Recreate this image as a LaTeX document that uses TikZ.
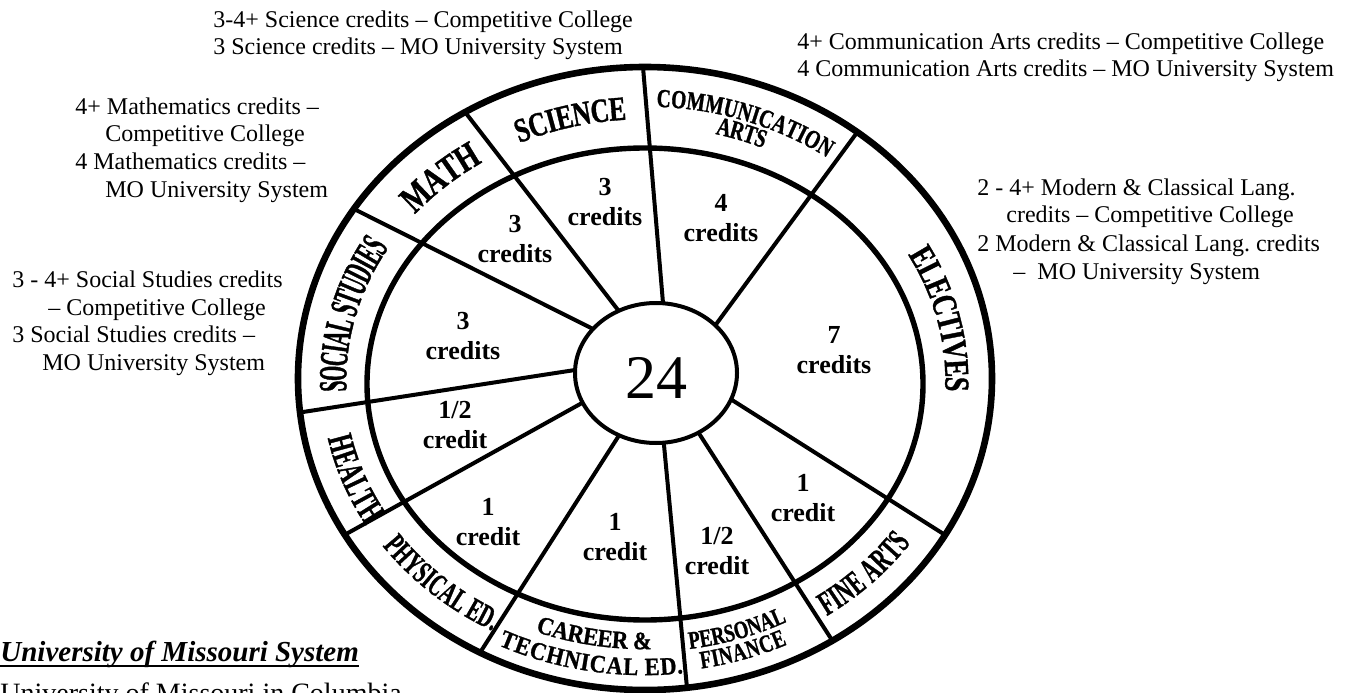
\documentclass[tikz,border=0pt]{standalone}
\usepackage{fontspec}
\setmainfont{Liberation Serif}
\newfontfamily\ringA{Liberation Serif}[FakeStretch=0.48, FakeBold=1]
\newfontfamily\ringB{Liberation Serif}[FakeStretch=0.6, FakeBold=1]
\newfontfamily\ringC{Liberation Serif}[FakeStretch=0.75, FakeBold=1]
\newfontfamily\ringD{Liberation Serif}[FakeStretch=0.9, FakeBold=1]
\newcommand\rf[2]{#1\bfseries\fontsize{#2}{#2}\selectfont}
\usetikzlibrary{calc, decorations.text}

% label along the middle of the ring: start angle, end angle, raise, text
\newcommand\ringlabel[4]{%
    \path[shift={(6.45,3.11)}, decorate,
        decoration={text along path, text align=center, raise=#3, text={#4}}]
        (#1:3.12 and 2.73) arc [start angle=#1, end angle=#2, x radius=3.12, y radius=2.73];
}

\begin{document}
\begin{tikzpicture}[x=50pt, y=50pt,
    note/.style = {anchor=base west, inner sep=0pt, font=\fontsize{12}{13.75}\selectfont},
    cred/.style = {align=center, inner sep=0pt, font=\bfseries\fontsize{13}{15}\selectfont}
]
\clip (0,0) rectangle (13.49,6.92);

% spokes, cut at the rim
\begin{scope}
\clip (6.45,3.135) ellipse [x radius=3.47, y radius=3.115];
\foreach \ax/\ay/\bx/\by [count=\i] in {6.63/3.89/6.43/6.25, 7.17/3.69/8.53/5.54,
        7.32/2.92/9.42/1.59, 7.00/2.57/8.30/0.55, 6.64/2.47/6.87/0.04,
        6.18/2.55/4.83/0.44, 5.82/2.89/3.48/1.59, 5.75/3.22/3.03/2.80,
        5.95/3.62/3.60/4.80, 6.18/3.82/4.65/5.80} {
    \coordinate (h\i) at (\ax,\ay);
    \coordinate (r\i) at (\bx,\by);
    \draw[line width=2pt] ($(r\i)!1.1!(h\i)$) -- ($(h\i)!1.1!(r\i)$);
}
\end{scope}

% rings and hub
\draw[line width=3.3pt] (6.45,3.135) ellipse [x radius=3.47, y radius=3.115];
\draw[line width=2.7pt] (6.45,3.08) ellipse [x radius=2.78, y radius=2.36];
\draw[line width=2pt, fill=white] (6.56,3.19) ellipse [x radius=0.81, y radius=0.70];
\node (total) at (6.56,3.14) {\fontsize{31}{31}\selectfont 24};

% subjects
\ringlabel{155}{55}{-5.6pt}{|\rf\ringC{17}|SCIENCE}
\ringlabel{183.5}{83.5}{-6.3pt}{|\rf\ringC{19}|MATH}
\ringlabel{216.5}{116.5}{-6.6pt}{|\rf\ringA{20}|SOCIAL STUDIES}
\ringlabel{149.5}{249.5}{-5.9pt}{|\rf\ringB{18}|HEALTH}
\ringlabel{176.5}{276.5}{-5.3pt}{|\rf\ringB{16}|PHYSICAL ED.}
\ringlabel{209.5}{309.5}{2.4pt}{|\rf\ringD{12.5}|CAREER {\&}}
\ringlabel{209.5}{309.5}{-10.6pt}{|\rf\ringD{12.5}|TECHNICAL ED.}
\ringlabel{239}{339}{1.1pt}{|\rf\ringC{12.5}|PERSONAL}
\ringlabel{239}{339}{-9.4pt}{|\rf\ringC{12.5}|FINANCE}
\ringlabel{267}{367}{-5.6pt}{|\rf\ringB{17}|FINE ARTS}
\ringlabel{62.5}{-37.5}{-5.8pt}{|\rf\ringC{17.5}|ELECTIVES}
\ringlabel{120}{20}{0.7pt}{|\rf\ringC{13}|COMMUNICATION}
\ringlabel{120}{20}{-9.3pt}{|\rf\ringC{13}|ARTS}

% credits
\node (sci) [cred] at (6.05,4.90) {3\\credits};
\node (math) [cred] at (5.15,4.53) {3\\credits};
\node (comm) [cred] at (7.21,4.74) {4\\credits};
\node (elec) [cred] at (8.34,3.42) {7\\credits};
\node (soc) [cred] at (4.63,3.56) {3\\credits};
\node (hlth) [cred] at (4.55,2.67) {1/2\\credit};
\node (phys) [cred] at (4.88,1.70) {1\\credit};
\node (cte) [cred] at (6.15,1.55) {1\\credit};
\node (pfin) [cred] at (7.17,1.41) {1/2\\credit};
\node (fine) [cred] at (8.03,1.94) {1\\credit};

% requirements
\foreach \x/\y/\t [count=\i] in {
        2.13/6.64/{3-4+ Science credits – Competitive College},
        2.13/6.37/{3 Science credits – MO University System},
        7.97/6.42/{4+ Communication Arts credits – Competitive College},
        7.97/6.15/{4 Communication Arts credits – MO University System},
        0.75/5.77/{4+ Mathematics credits –},
        1.05/5.50/{Competitive College},
        0.75/5.22/{4 Mathematics credits –},
        1.05/4.95/{MO University System},
        0.12/4.05/{3 - 4+ Social Studies credits},
        0.48/3.77/{– Competitive College},
        0.12/3.50/{3 Social Studies credits –},
        0.42/3.22/{MO University System},
        9.77/4.96/{2 - 4+ Modern \& Classical Lang.},
        10.06/4.69/{credits – Competitive College},
        9.77/4.40/{2 Modern \& Classical Lang.\ credits},
        10.13/4.13/{–\ \ MO University System}} {
    \node (note\i) [note] at (\x,\y) {\t};
}

\node (umsys) [anchor=base west, inner sep=0pt, font=\bfseries\itshape\fontsize{14.5}{14.5}\selectfont]
    at (0,0.31) {University of Missouri System};
\draw[line width=1.3pt] ($(umsys.base west)+(0,-0.05)$) -- ($(umsys.base east)+(0,-0.05)$);
\node (umc) [anchor=base west, inner sep=0pt, font=\fontsize{14}{14}\selectfont]
    at (0,-0.10) {University of Missouri in Columbia};
\end{tikzpicture}
\end{document}
